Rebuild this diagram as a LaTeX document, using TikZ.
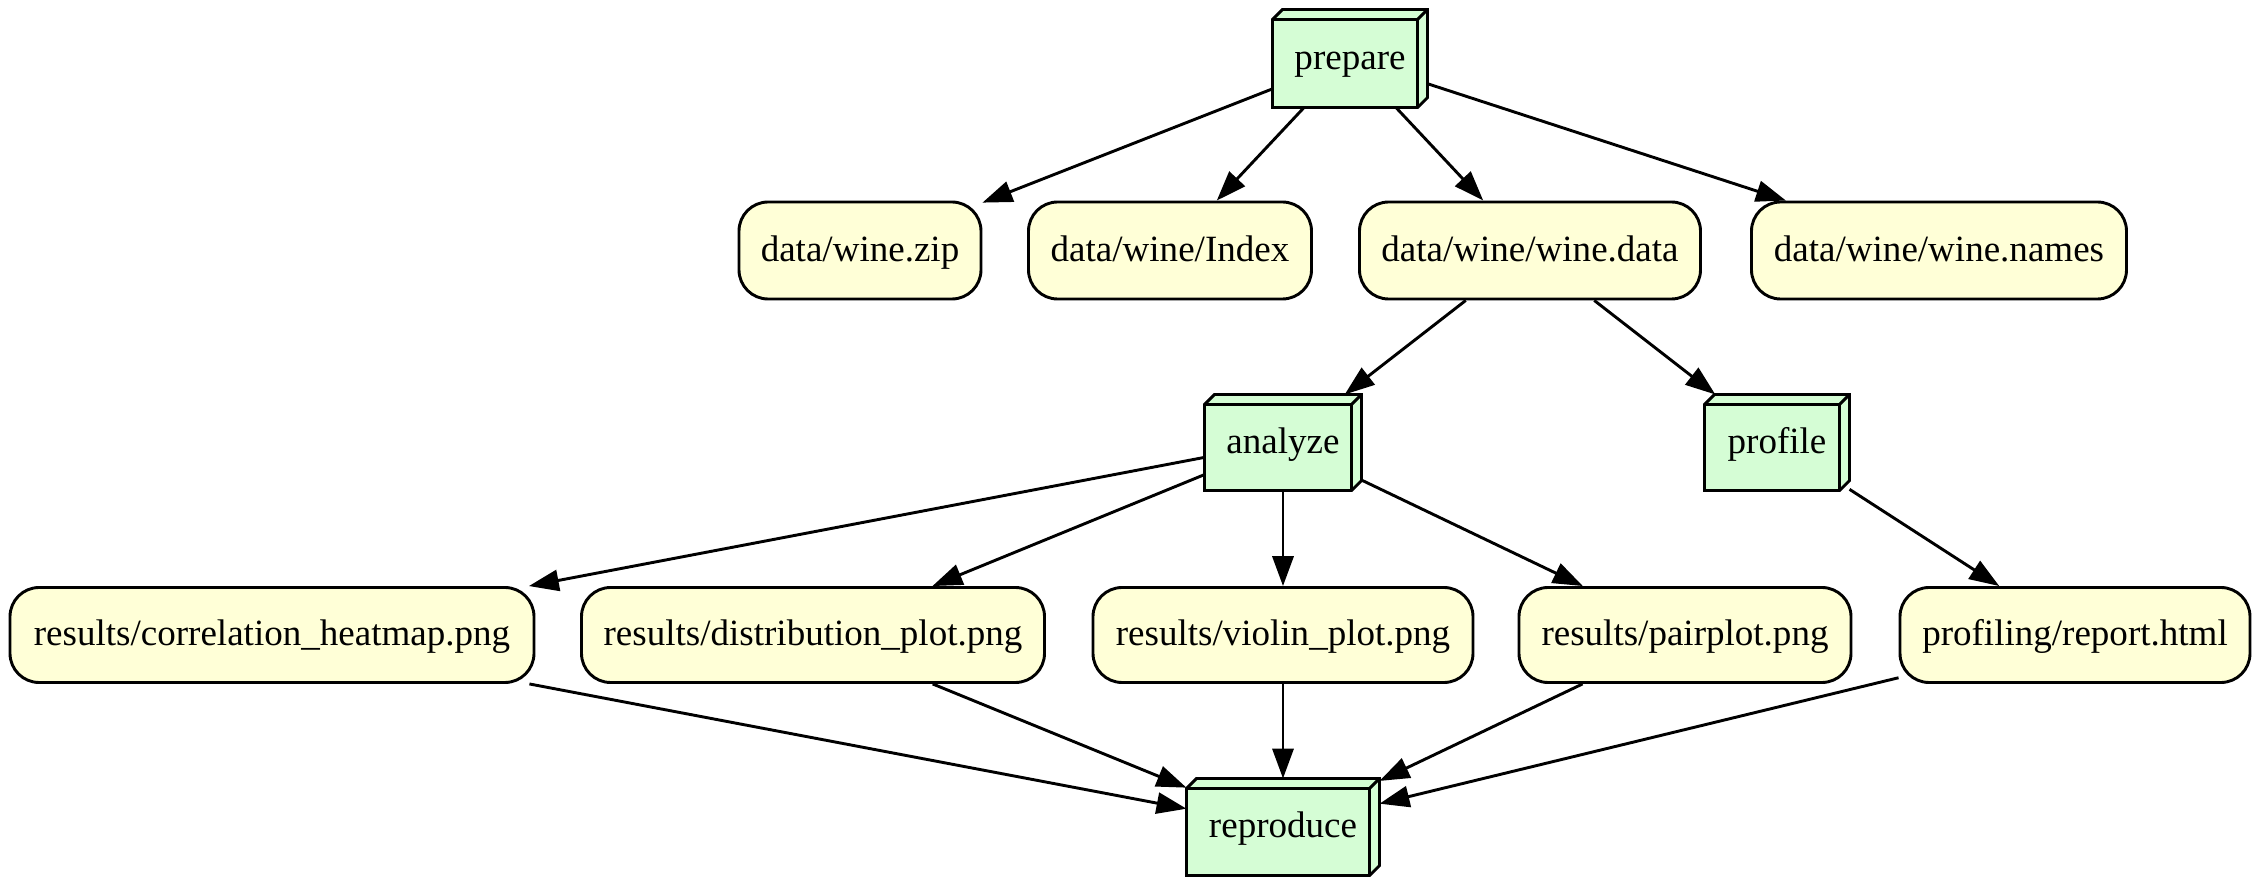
\documentclass[tikz,border=0pt]{standalone}
\usepackage{fontspec}
\setmainfont{Liberation Serif}
\usetikzlibrary{arrows.meta,backgrounds}
\definecolor{cubegreen}{RGB}{213,253,213}
\definecolor{fileyellow}{RGB}{255,255,215}
\def\u{0.378pt}
\def\dd{3.78pt}
\tikzset{
  filebox/.style={draw=black, line width=1.1pt, fill=fileyellow, rounded corners=11pt,
    inner sep=0pt, text height=11pt, text depth=3pt, minimum height={97*\u}, font=\fontsize{14}{16}\selectfont},
  cubebox/.style={draw=none, inner sep=0pt, text height=11pt, text depth=3pt, font=\fontsize{14}{16}\selectfont},
  edge/.style={line width=1.1pt, -{Triangle[length=11.3pt,width=8pt]}},
}
\newcommand\cubeshape[1]{%
  \begin{pgfonlayer}{background}
  \filldraw[fill=cubegreen, draw=black, line width=1.1pt, line join=miter]
    (#1.south west) -- ([yshift=-\dd]#1.north west) -- ([xshift=\dd]#1.north west)
    -- (#1.north east) -- ([yshift=\dd]#1.south east) -- ([xshift=-\dd]#1.south east) -- cycle;
  \draw[line width=1.1pt]
    ([yshift=-\dd]#1.north west) -- ([xshift=-\dd,yshift=-\dd]#1.north east) -- (#1.north east)
    ([xshift=-\dd,yshift=-\dd]#1.north east) -- ([xshift=-\dd]#1.south east);
  \end{pgfonlayer}}
\begin{document}
\begin{tikzpicture}[x=0.378pt, y=-0.378pt]
\useasboundingbox (0,0) rectangle (2262,886);
% cubes
\node[cubebox, minimum width={154*\u}, minimum height={97*\u}] (prepare) at (1350,58.5) {prepare};
\cubeshape{prepare}
\node[cubebox, minimum width={156*\u}, minimum height={95*\u}] (analyze) at (1283,442.5) {analyze};
\cubeshape{analyze}
\node[cubebox, minimum width={144*\u}, minimum height={95*\u}] (profile) at (1777,442.5) {profile};
\cubeshape{profile}
\node[cubebox, minimum width={192*\u}, minimum height={96*\u}] (reproduce) at (1283,827) {reproduce};
\cubeshape{reproduce}
% row 2
\node[filebox, minimum width={242*\u}] (zip) at (860,250.5) {data/wine.zip};
\node[filebox, minimum width={283*\u}] (index) at (1170,250.5) {data/wine/Index};
\node[filebox, minimum width={341*\u}] (wdata) at (1530,250.5) {data/wine/wine.data};
\node[filebox, minimum width={375*\u}] (wnames) at (1939,250.5) {data/wine/wine.names};
% row 4
\node[filebox, minimum width={524*\u}, minimum height={95*\u}] (corr) at (272,635) {results/correlation\_heatmap.png};
\node[filebox, minimum width={463*\u}, minimum height={95*\u}] (dist) at (813,635) {results/distribution\_plot.png};
\node[filebox, minimum width={380*\u}, minimum height={95*\u}] (violin) at (1283,635) {results/violin\_plot.png};
\node[filebox, minimum width={332*\u}, minimum height={95*\u}] (pair) at (1685,635) {results/pairplot.png};
\node[filebox, minimum width={350*\u}, minimum height={95*\u}] (report) at (2075,635) {profiling/report.html};
% edges
\draw[edge] (prepare) -- (zip);
\draw[edge] (prepare) -- (index);
\draw[edge] (prepare) -- (wdata);
\draw[edge] (prepare) -- (wnames);
\draw[edge] (wdata) -- (analyze);
\draw[edge] (wdata) -- (profile);
\draw[edge] (analyze) -- (corr);
\draw[edge] (analyze) -- (dist);
\draw[edge] (analyze) -- (violin);
\draw[edge] (analyze) -- (pair);
\draw[edge] (profile) -- (report);
\draw[edge] (corr) -- (reproduce);
\draw[edge] (dist) -- (reproduce);
\draw[edge] (violin) -- (reproduce);
\draw[edge] (pair) -- (reproduce);
\draw[edge] (report) -- (reproduce);
\end{tikzpicture}
\end{document}
